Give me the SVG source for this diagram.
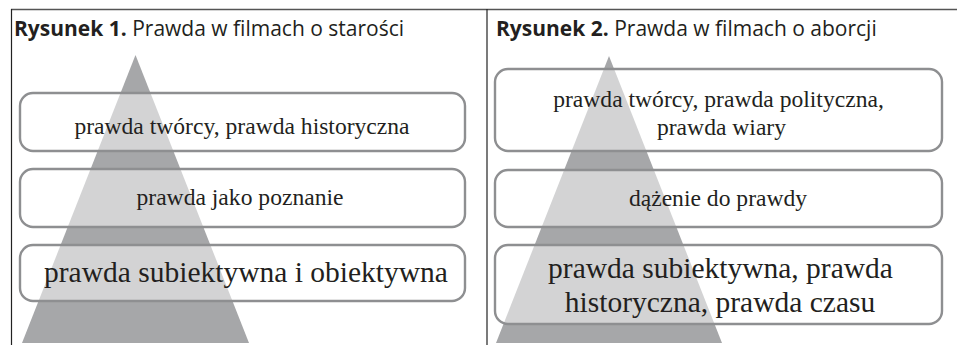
<svg xmlns="http://www.w3.org/2000/svg" width="957" height="345" viewBox="0 0 957 345">
<style>
.frame{stroke:#222;stroke-width:1.2;fill:none}
.top{stroke:#555;stroke-width:1.6}
.tri{fill:#a6a7a9}
.box{fill:#fff;fill-opacity:0.5;stroke:#8e8f91;stroke-width:2.4}
.hd{font-family:"Open Sans","Noto Sans",sans-serif;font-size:21px;fill:#231f20}
.hd .b{font-weight:bold}
.t{font-family:"Liberation Serif","DejaVu Serif",serif;fill:#231f20;text-anchor:middle}
.s{font-size:23.6px}
.l{font-size:29.5px}
</style>
<rect width="957" height="345" fill="#fff"/>
<g id="frame">
<line class="top" x1="11" y1="9.5" x2="957" y2="9.5"/>
<line class="frame" x1="11.5" y1="9" x2="11.5" y2="345"/>
<line class="frame" x1="487" y1="9" x2="487" y2="345"/>
</g>
<g id="header1"><text class="hd" x="14" y="36"><tspan class="b">Rysunek 1.</tspan> Prawda w filmach o starości</text></g>
<g id="header2"><text class="hd" x="496" y="36"><tspan class="b">Rysunek 2.</tspan> Prawda w filmach o aborcji</text></g>
<g id="pyramid1"><polygon class="tri" points="135.5,55 22,343 249,343"/></g>
<g id="pyramid2"><polygon class="tri" points="609,56 496,343 722,343"/></g>
<g id="l1"><rect class="box" x="20" y="93" width="445" height="58" rx="13"/><text class="t s" x="242" y="134">prawda twórcy, prawda historyczna</text></g>
<g id="l2"><rect class="box" x="20" y="169" width="445" height="58" rx="13"/><text class="t s" x="240" y="205">prawda jako poznanie</text></g>
<g id="l3"><rect class="box" x="20" y="245" width="445" height="56" rx="13"/><text class="t l" x="246" y="282">prawda subiektywna i obiektywna</text></g>
<g id="r1"><rect class="box" x="495" y="69" width="447" height="82" rx="13"/><text class="t s" x="718.5" y="107">prawda twórcy, prawda polityczna,</text><text class="t s" x="721.5" y="135">prawda wiary</text></g>
<g id="r2"><rect class="box" x="495" y="170" width="447" height="57" rx="13"/><text class="t s" x="718" y="206">dążenie do prawdy</text></g>
<g id="r3"><rect class="box" x="495" y="245" width="447" height="79" rx="13"/><text class="t l" x="720.5" y="278">prawda subiektywna, prawda</text><text class="t l" x="720" y="312">historyczna, prawda czasu</text></g>
</svg>
